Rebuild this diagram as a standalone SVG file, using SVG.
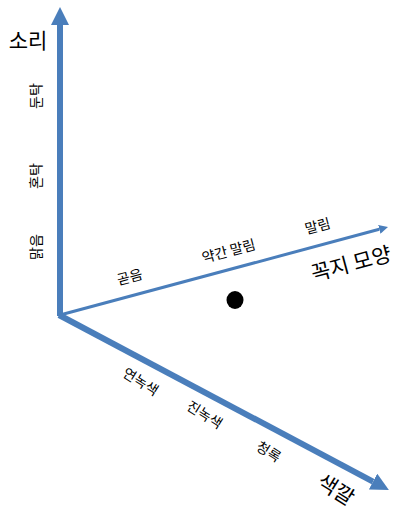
<svg xmlns="http://www.w3.org/2000/svg" width="400" height="512" viewBox="0 0 400 512">
  <style>
    text { font-family: "Noto Sans CJK KR", "Noto Sans", sans-serif; fill: #000; text-anchor: middle; }
    .sm { font-size: 14px; }
    .lg { font-size: 21px; }
    .axis { stroke: #4a7ebb; fill: none; stroke-linecap: butt; }
  </style>
  <defs>
    <marker id="arrow" viewBox="0 0 3 3" refX="0" refY="1.5" markerWidth="3" markerHeight="3" orient="auto" markerUnits="strokeWidth">
      <path d="M0,0 L3,1.5 L0,3 z" fill="#4a7ebb"/>
    </marker>
  </defs>
  <rect width="400" height="512" fill="#ffffff"/>
  <g id="connectors">
    <line class="axis" x1="60" y1="316" x2="60" y2="25" stroke-width="6" marker-end="url(#arrow)"/>
    <line class="axis" x1="60" y1="315" x2="379.3" y2="229.3" stroke-width="3" marker-end="url(#arrow)"/>
    <line class="axis" x1="59" y1="315" x2="373" y2="481.6" stroke-width="6" marker-end="url(#arrow)"/>
  </g>
  <g id="axis-sound">
    <text class="lg" x="28" y="48">소리</text>
    <text class="sm" transform="translate(41,96) rotate(-90)">둔탁</text>
    <text class="sm" transform="translate(41,176) rotate(-90)">혼탁</text>
    <text class="sm" transform="translate(41,247) rotate(-90)">맑음</text>
  </g>
  <g id="axis-shape">
    <text class="sm" transform="translate(131,282) rotate(-15)">곧음</text>
    <text class="sm" transform="translate(230,256) rotate(-15)">약간 말림</text>
    <text class="sm" transform="translate(319,231) rotate(-15)">말림</text>
    <text class="lg" transform="translate(353,271) rotate(-15)">꼭지 모양</text>
  </g>
  <g id="axis-color">
    <text class="sm" transform="translate(138,386) rotate(32)">연녹색</text>
    <text class="sm" transform="translate(202,419) rotate(32)">진녹색</text>
    <text class="sm" transform="translate(266,456) rotate(32)">청록</text>
    <text class="lg" transform="translate(332,496) rotate(32)">색깔</text>
  </g>
  <g id="point">
    <ellipse cx="235" cy="300" rx="8.5" ry="9" fill="#000"/>
  </g>
</svg>
